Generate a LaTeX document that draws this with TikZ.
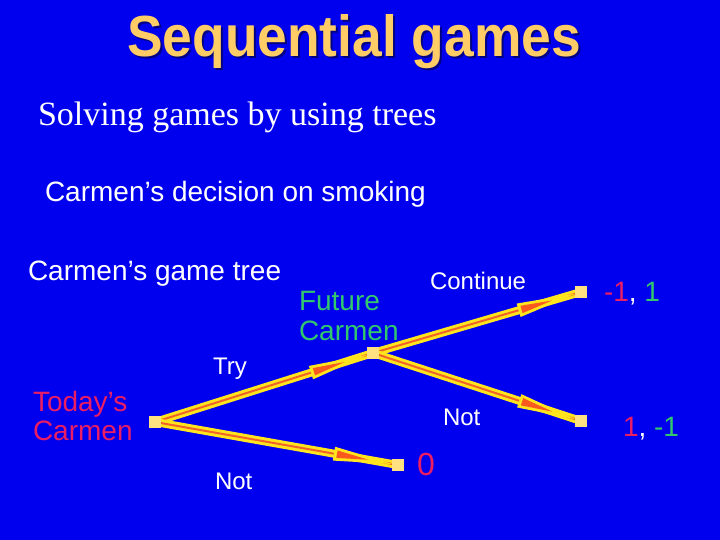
\documentclass[tikz,border=0pt]{standalone}
\usepackage{fontspec}
\setmainfont{Liberation Sans}
\newfontfamily\serifface{Liberation Serif}
\usetikzlibrary{decorations.markings}
\definecolor{bgblue}{RGB}{0,0,238}
\definecolor{titlecol}{RGB}{255,204,102}
\definecolor{edgeyellow}{RGB}{255,228,30}
\definecolor{edgeorange}{RGB}{240,100,40}
\definecolor{arroworange}{RGB}{250,90,30}
\definecolor{nodecol}{RGB}{255,225,130}
\definecolor{greentxt}{RGB}{50,200,110}
\definecolor{redtxt}{RGB}{235,30,100}
\pgfdeclarelayer{bg}
\pgfdeclarelayer{edges}
\pgfsetlayers{bg,edges,main}
\tikzset{
  txt/.style={anchor=base west,inner sep=0pt,outer sep=0pt,text=white,font=\fontsize{24}{28}\selectfont},
  bigtxt/.style={txt,font=\fontsize{28}{30}\selectfont},
  leaf/.style={rectangle,fill=nodecol,minimum size=12pt,inner sep=0pt},
  branch/.style={draw=edgeyellow,double=edgeorange,double distance=2pt,line width=3pt,
    postaction={decorate,decoration={markings,mark=at position -5pt with {
      \fill[edgeyellow] (0pt,0pt) -- (-60pt,7pt) -- (-60pt,-7pt) -- cycle;
      \fill[arroworange] (-25pt,0pt) -- (-57pt,3.8pt) -- (-57pt,-3.8pt) -- cycle;}}}},
}
\begin{document}
\begin{tikzpicture}[x=1pt,y=-1pt]
\begin{pgfonlayer}{bg}
\fill[bgblue] (0,0) rectangle (720,540);
\end{pgfonlayer}
\useasboundingbox (0,0) rectangle (720,540);
% title
\node[anchor=base,inner sep=0pt,text=black,opacity=0.45,font=\fontsize{58}{60}\selectfont\bfseries,xscale=0.92] at (356,59) {Sequential games};
\node[anchor=base,inner sep=0pt,text=titlecol,font=\fontsize{58}{60}\selectfont\bfseries,xscale=0.92] (title) at (354,57) {Sequential games};
\node[txt,font=\serifface\fontsize{34}{36}\selectfont] (sub) at (38,126) {Solving games by using trees};
\node[bigtxt] (dec) at (45,202) {Carmen’s decision on smoking};
\node[bigtxt] (gt) at (28,280) {Carmen’s game tree};
\node[bigtxt,text=greentxt] (fut1) at (299,310) {Future};
\node[bigtxt,text=greentxt] (fut2) at (299,340) {Carmen};
\node[bigtxt,text=redtxt] (tod1) at (33,411) {Today’s};
\node[bigtxt,text=redtxt] (tod2) at (33,440) {Carmen};
\node[txt] (cont) at (430,289) {Continue};
\node[txt] (try) at (213,374) {Try};
\node[txt] (notr) at (443,425) {Not};
\node[txt] (notl) at (215,489) {Not};
\node[bigtxt,font=\fontsize{32}{34}\selectfont,text=redtxt] (zero) at (417,475) {0};
\node[bigtxt] (p1) at (604,301) {\textcolor{redtxt}{-1}, \textcolor{greentxt}{1}};
\node[bigtxt] (p2) at (623,436) {\textcolor{redtxt}{1}, \textcolor{greentxt}{-1}};
% tree nodes
\node[leaf] (today) at (155,422) {};
\node[leaf] (future) at (373,353) {};
\node[leaf] (lc) at (581,292) {};
\node[leaf] (ln) at (581,421) {};
\node[leaf] (lz) at (398,465) {};
\begin{pgfonlayer}{edges}
\draw[branch] (today.center) -- (future.center);
\draw[branch] (today.center) -- (lz.center);
\draw[branch] (future.center) -- (lc.center);
\draw[branch] (future.center) -- (ln.center);
\end{pgfonlayer}
\end{tikzpicture}
\end{document}
